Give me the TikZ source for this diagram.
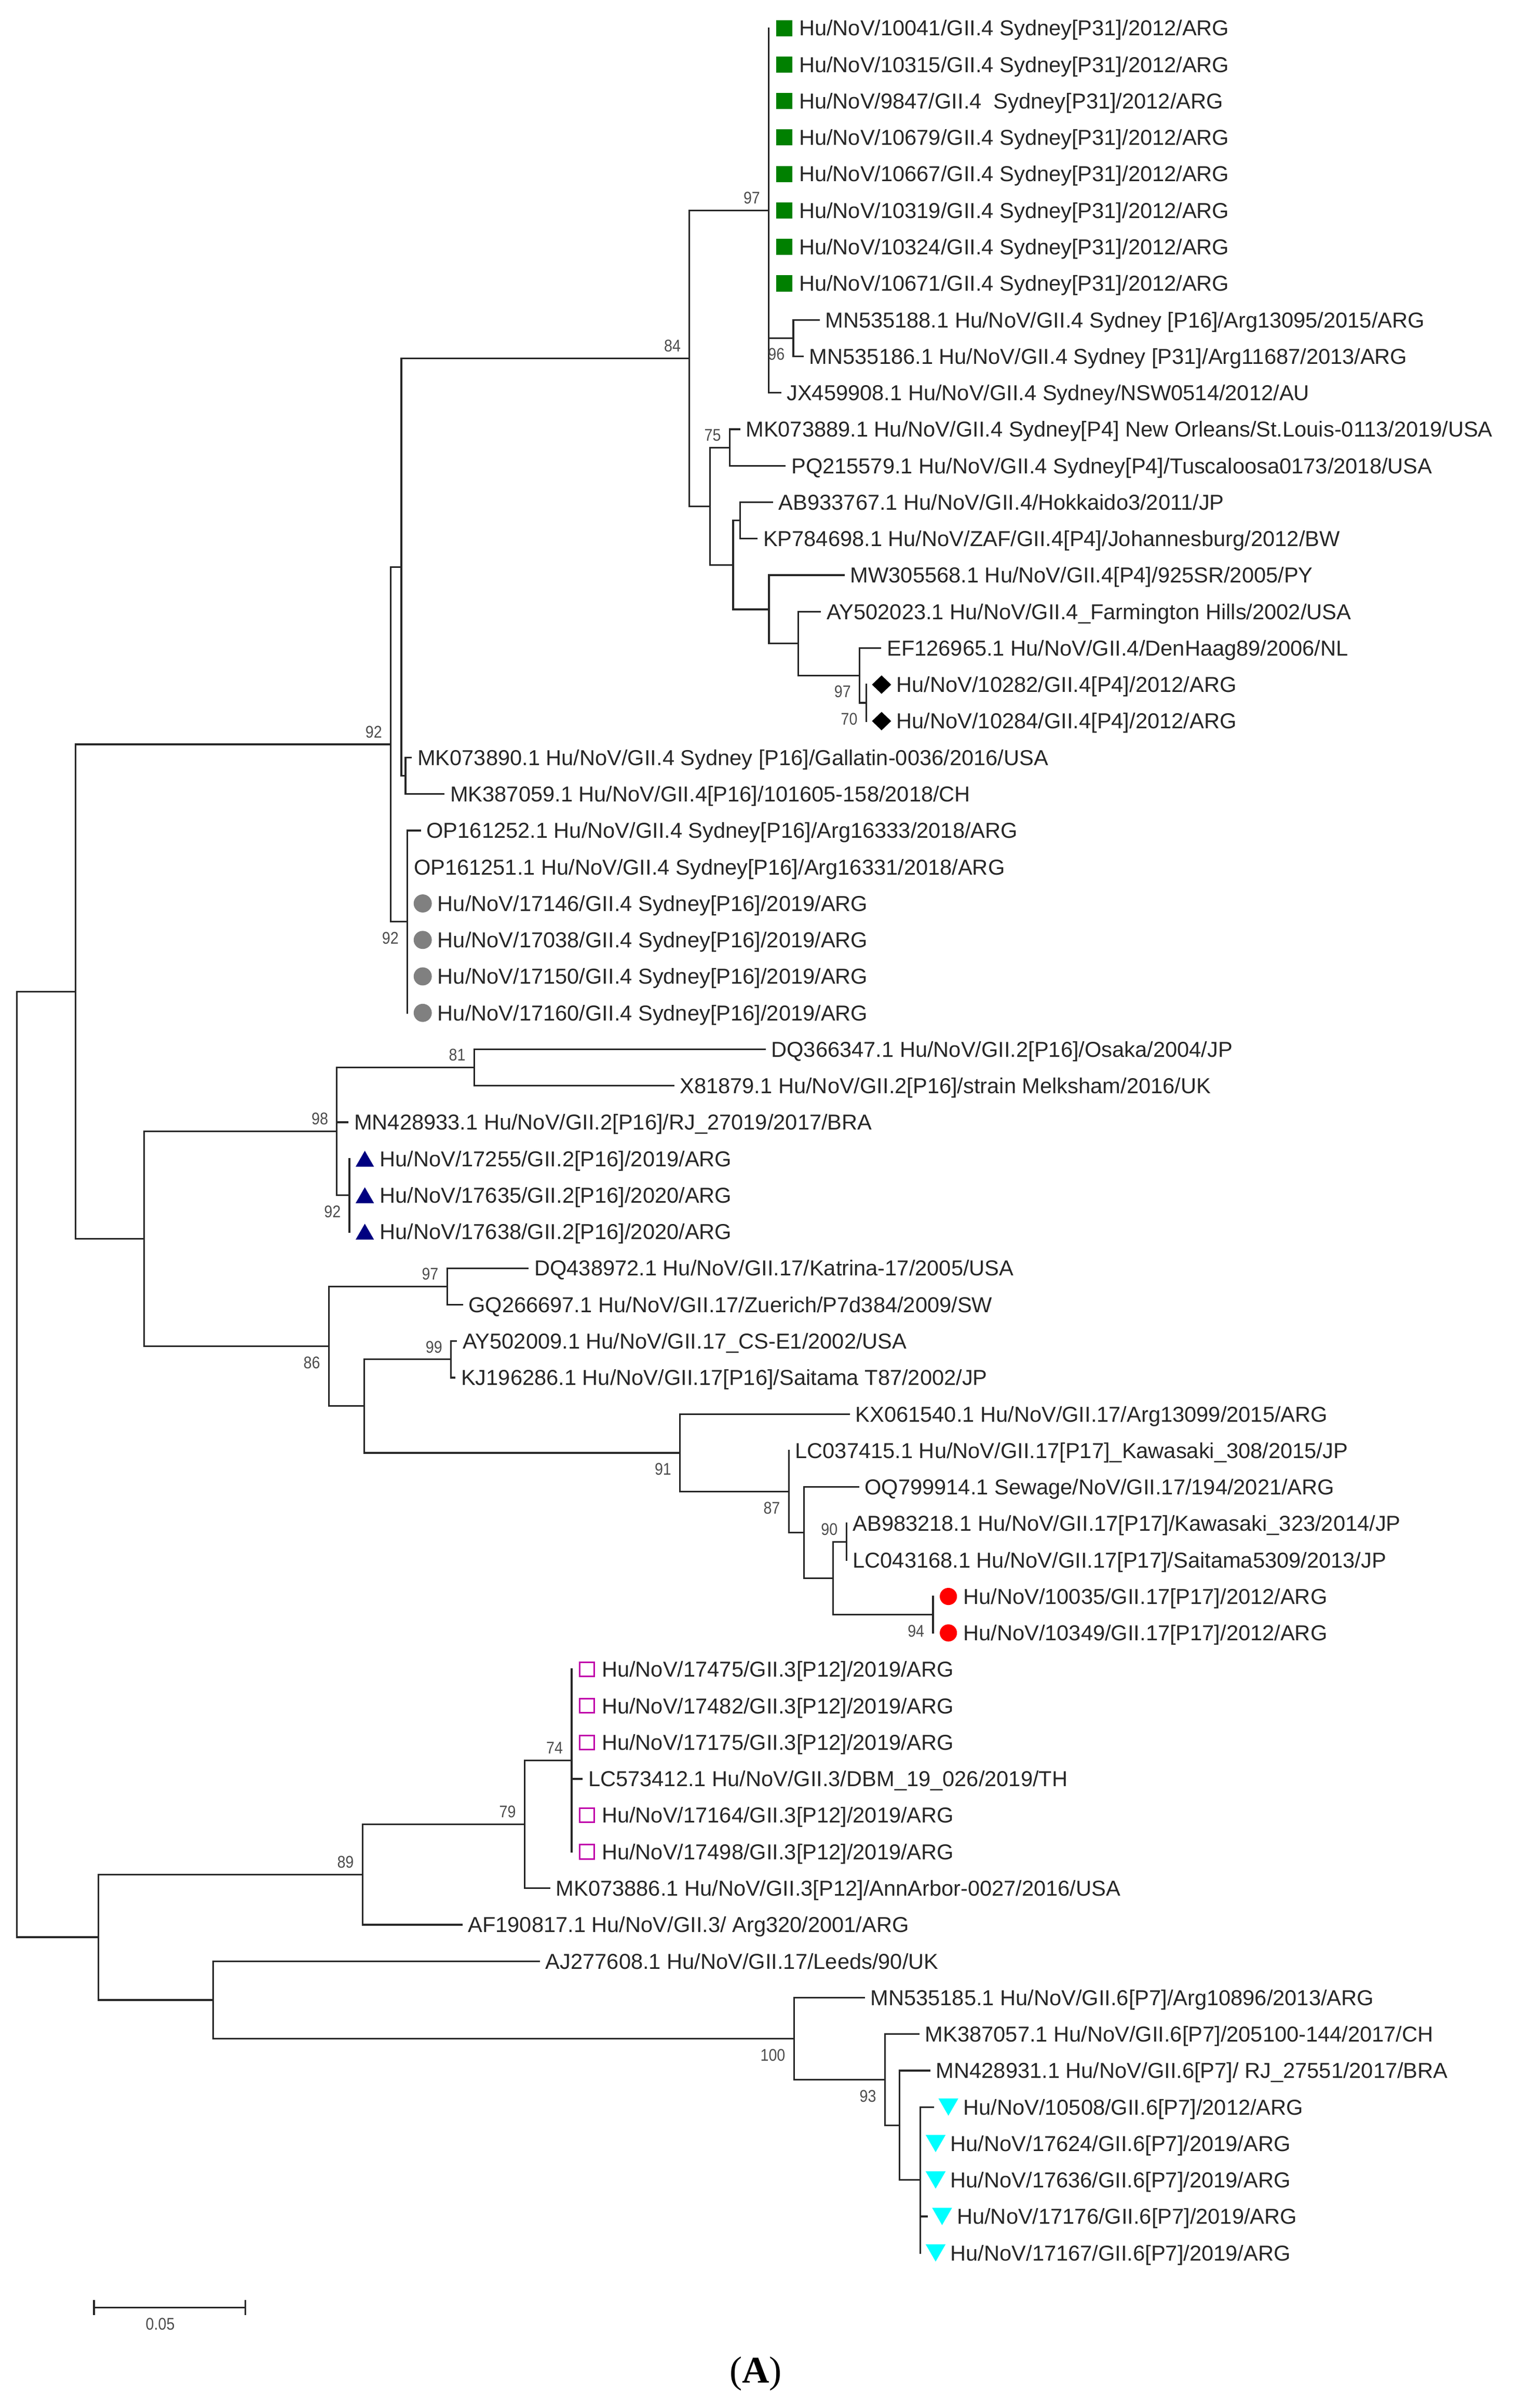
\documentclass[tikz,border=0pt]{standalone}
\usepackage{fontspec}
\setmainfont{Liberation Sans}
\newfontfamily\bootfont[FakeStretch=0.88]{Liberation Sans}
\newfontfamily\panelfont{Liberation Serif}
\usetikzlibrary{shapes.geometric}

\definecolor{cladegreen}{RGB}{0,128,0}
\definecolor{cladegray}{RGB}{128,128,128}
\definecolor{cladenavy}{RGB}{0,0,128}
\definecolor{cladered}{RGB}{255,0,0}
\definecolor{cladepurple}{RGB}{192,0,170}
\definecolor{cladecyan}{RGB}{0,255,255}

\begin{document}
\begin{tikzpicture}[x=1pt, y=-23.75pt,
	branch/.style={line width=1.1pt, line cap=rect, draw=black!85},
	tipfont/.style={anchor=base west, inner sep=0pt, yshift=-5pt, text=black!85, font=\fontsize{14.07}{16}\selectfont},
	tip/.style={tipfont, xshift=4pt},
	mtip/.style={tipfont, xshift=19.5pt},
	mk/.style={inner sep=0pt, outer sep=0pt, xshift=10pt},
	gsq/.style={mk, rectangle, fill=cladegreen, minimum size=10.5pt},
	gdot/.style={mk, circle, fill=cladegray, minimum size=11.8pt},
	ntri/.style={mk, regular polygon, regular polygon sides=3, fill=cladenavy, minimum size=13.8pt, yshift=-1.7pt},
	rdot/.style={mk, circle, fill=cladered, minimum size=11.2pt},
	msq/.style={mk, rectangle, draw=cladepurple, line width=1pt, minimum size=9.2pt},
	bdia/.style={mk, diamond, fill=black, minimum width=12.5pt, minimum height=12pt},
	ctri/.style={mk, regular polygon, regular polygon sides=3, shape border rotate=180, fill=cladecyan, minimum size=15pt, yshift=1.9pt},
	boot/.style={anchor=east, inner sep=0pt, xshift=-5.5pt, text=black!70, font=\bootfont\fontsize{11}{13}\selectfont},
	ba/.style={boot, yshift=8.1pt},
	bb/.style={boot, yshift=-10.6pt}]
	\useasboundingbox (0,0.22947) rectangle (985.3,66.251);

	% internal nodes (x in pt, y in leaf rows)
	\coordinate (n96) at (516.5,9.5);
	\coordinate (n97a) at (500.5,6);
	\coordinate (n75) at (475,12.5);
	\coordinate (nHk) at (481.7,14.5);
	\coordinate (n70) at (563.9,19.5);
	\coordinate (n97b) at (559.6,18.75);
	\coordinate (nFH) at (519.6,17.875);
	\coordinate (nPY) at (500.6,16.9375);
	\coordinate (nP4) at (477.3,15.71875);
	\coordinate (nG4b) at (462.3,14.109375);
	\coordinate (n84) at (448.8,10.0546875);
	\coordinate (nMK16) at (264,21.5);
	\coordinate (nG4a) at (261.3,15.77734);
	\coordinate (n92b) at (265.2,25.5);
	\coordinate (n92a) at (254.4,20.63867);
	\coordinate (n81) at (308.7,29.5);
	\coordinate (n92c) at (227.5,33);
	\coordinate (n98) at (219.3,31.25);
	\coordinate (n97c) at (291.1,35.5);
	\coordinate (n99) at (293.6,37.5);
	\coordinate (n94) at (607.4,44.5);
	\coordinate (n90) at (551,42.5);
	\coordinate (nLC) at (542.4,43.5);
	\coordinate (nOQ) at (523.4,42.25);
	\coordinate (n87) at (513.5,41.125);
	\coordinate (n91) at (442.7,40.0625);
	\coordinate (nKJ) at (237.2,38.78125);
	\coordinate (n86) at (214.1,37.140625);
	\coordinate (nG2) at (93.8,34.19531);
	\coordinate (nTop) at (49.2,27.41699);
	\coordinate (n74) at (372.1,48.5);
	\coordinate (n79) at (341.5,50.25);
	\coordinate (n89) at (236,51.625);
	\coordinate (nTri) at (599.1,60);
	\coordinate (nRJ) at (585.6,58.5);
	\coordinate (n93) at (576.1,57.25);
	\coordinate (n100) at (516.9,56.125);
	\coordinate (nAJ) at (138.7,55.0625);
	\coordinate (nBot) at (64.1,53.34375);
	\coordinate (root) at (11,40.38037);

	% GII.4 Sydney [P31]
	\coordinate (e1) at (500.5,1); \node[gsq] (m1) at (e1) {}; \node[mtip] (t1) at (e1) {Hu/NoV/10041/GII.4 Sydney[P31]/2012/ARG};
	\coordinate (e2) at (500.5,2); \node[gsq] (m2) at (e2) {}; \node[mtip] (t2) at (e2) {Hu/NoV/10315/GII.4 Sydney[P31]/2012/ARG};
	\coordinate (e3) at (500.5,3); \node[gsq] (m3) at (e3) {}; \node[mtip] (t3) at (e3) {Hu/NoV/9847/GII.4\ \ Sydney[P31]/2012/ARG};
	\coordinate (e4) at (500.5,4); \node[gsq] (m4) at (e4) {}; \node[mtip] (t4) at (e4) {Hu/NoV/10679/GII.4 Sydney[P31]/2012/ARG};
	\coordinate (e5) at (500.5,5); \node[gsq] (m5) at (e5) {}; \node[mtip] (t5) at (e5) {Hu/NoV/10667/GII.4 Sydney[P31]/2012/ARG};
	\coordinate (e6) at (500.5,6); \node[gsq] (m6) at (e6) {}; \node[mtip] (t6) at (e6) {Hu/NoV/10319/GII.4 Sydney[P31]/2012/ARG};
	\coordinate (e7) at (500.5,7); \node[gsq] (m7) at (e7) {}; \node[mtip] (t7) at (e7) {Hu/NoV/10324/GII.4 Sydney[P31]/2012/ARG};
	\coordinate (e8) at (500.5,8); \node[gsq] (m8) at (e8) {}; \node[mtip] (t8) at (e8) {Hu/NoV/10671/GII.4 Sydney[P31]/2012/ARG};
	\coordinate (e9) at (533,9); \node[tip] (t9) at (e9) {MN535188.1 Hu/NoV/GII.4 Sydney [P16]/Arg13095/2015/ARG};
	\coordinate (e10) at (522.7,10); \node[tip] (t10) at (e10) {MN535186.1 Hu/NoV/GII.4 Sydney [P31]/Arg11687/2013/ARG};
	\coordinate (e11) at (508,11); \node[tip] (t11) at (e11) {JX459908.1 Hu/NoV/GII.4 Sydney/NSW0514/2012/AU};
	\coordinate (e12) at (481.3,12); \node[tip] (t12) at (e12) {MK073889.1 Hu/NoV/GII.4 Sydney[P4] New Orleans/St.Louis-0113/2019/USA};
	\coordinate (e13) at (511,13); \node[tip] (t13) at (e13) {PQ215579.1 Hu/NoV/GII.4 Sydney[P4]/Tuscaloosa0173/2018/USA};
	\coordinate (e14) at (502.8,14); \node[tip] (t14) at (e14) {AB933767.1 Hu/NoV/GII.4/Hokkaido3/2011/JP};
	\coordinate (e15) at (492.7,15); \node[tip] (t15) at (e15) {KP784698.1 Hu/NoV/ZAF/GII.4[P4]/Johannesburg/2012/BW};
	\coordinate (e16) at (549.4,16); \node[tip] (t16) at (e16) {MW305568.1 Hu/NoV/GII.4[P4]/925SR/2005/PY};
	\coordinate (e17) at (533.9,17); \node[tip] (t17) at (e17) {AY502023.1 Hu/NoV/GII.4\_Farmington Hills/2002/USA};
	\coordinate (e18) at (573.2,18); \node[tip] (t18) at (e18) {EF126965.1 Hu/NoV/GII.4/DenHaag89/2006/NL};
	\coordinate (e19) at (563.9,19); \node[bdia] (m19) at (e19) {}; \node[mtip] (t19) at (e19) {Hu/NoV/10282/GII.4[P4]/2012/ARG};
	\coordinate (e20) at (563.9,20); \node[bdia] (m20) at (e20) {}; \node[mtip] (t20) at (e20) {Hu/NoV/10284/GII.4[P4]/2012/ARG};

	% GII.4 Sydney [P16]
	\coordinate (e21) at (267.6,21); \node[tip] (t21) at (e21) {MK073890.1 Hu/NoV/GII.4 Sydney [P16]/Gallatin-0036/2016/USA};
	\coordinate (e22) at (288.9,22); \node[tip] (t22) at (e22) {MK387059.1 Hu/NoV/GII.4[P16]/101605-158/2018/CH};
	\coordinate (e23) at (273.5,23); \node[tip] (t23) at (e23) {OP161252.1 Hu/NoV/GII.4 Sydney[P16]/Arg16333/2018/ARG};
	\coordinate (e24) at (265.2,24); \node[tip] (t24) at (e24) {OP161251.1 Hu/NoV/GII.4 Sydney[P16]/Arg16331/2018/ARG};
	\coordinate (e25) at (265.2,25); \node[gdot] (m25) at (e25) {}; \node[mtip] (t25) at (e25) {Hu/NoV/17146/GII.4 Sydney[P16]/2019/ARG};
	\coordinate (e26) at (265.2,26); \node[gdot] (m26) at (e26) {}; \node[mtip] (t26) at (e26) {Hu/NoV/17038/GII.4 Sydney[P16]/2019/ARG};
	\coordinate (e27) at (265.2,27); \node[gdot] (m27) at (e27) {}; \node[mtip] (t27) at (e27) {Hu/NoV/17150/GII.4 Sydney[P16]/2019/ARG};
	\coordinate (e28) at (265.2,28); \node[gdot] (m28) at (e28) {}; \node[mtip] (t28) at (e28) {Hu/NoV/17160/GII.4 Sydney[P16]/2019/ARG};

	% GII.2
	\coordinate (e29) at (497.9,29); \node[tip] (t29) at (e29) {DQ366347.1 Hu/NoV/GII.2[P16]/Osaka/2004/JP};
	\coordinate (e30) at (438.4,30); \node[tip] (t30) at (e30) {X81879.1 Hu/NoV/GII.2[P16]/strain Melksham/2016/UK};
	\coordinate (e31) at (226.4,31); \node[tip] (t31) at (e31) {MN428933.1 Hu/NoV/GII.2[P16]/RJ\_27019/2017/BRA};
	\coordinate (e32) at (227.5,32); \node[ntri] (m32) at (e32) {}; \node[mtip] (t32) at (e32) {Hu/NoV/17255/GII.2[P16]/2019/ARG};
	\coordinate (e33) at (227.5,33); \node[ntri] (m33) at (e33) {}; \node[mtip] (t33) at (e33) {Hu/NoV/17635/GII.2[P16]/2020/ARG};
	\coordinate (e34) at (227.5,34); \node[ntri] (m34) at (e34) {}; \node[mtip] (t34) at (e34) {Hu/NoV/17638/GII.2[P16]/2020/ARG};

	% GII.17
	\coordinate (e35) at (343.7,35); \node[tip] (t35) at (e35) {DQ438972.1 Hu/NoV/GII.17/Katrina-17/2005/USA};
	\coordinate (e36) at (300.8,36); \node[tip] (t36) at (e36) {GQ266697.1 Hu/NoV/GII.17/Zuerich/P7d384/2009/SW};
	\coordinate (e37) at (297,37); \node[tip] (t37) at (e37) {AY502009.1 Hu/NoV/GII.17\_CS-E1/2002/USA};
	\coordinate (e38) at (296,38); \node[tip] (t38) at (e38) {KJ196286.1 Hu/NoV/GII.17[P16]/Saitama T87/2002/JP};
	\coordinate (e39) at (552.7,39); \node[tip] (t39) at (e39) {KX061540.1 Hu/NoV/GII.17/Arg13099/2015/ARG};
	\coordinate (e40) at (513.5,40); \node[tip] (t40) at (e40) {LC037415.1 Hu/NoV/GII.17[P17]\_Kawasaki\_308/2015/JP};
	\coordinate (e41) at (558.7,41); \node[tip] (t41) at (e41) {OQ799914.1 Sewage/NoV/GII.17/194/2021/ARG};
	\coordinate (e42) at (551,42); \node[tip] (t42) at (e42) {AB983218.1 Hu/NoV/GII.17[P17]/Kawasaki\_323/2014/JP};
	\coordinate (e43) at (551,43); \node[tip] (t43) at (e43) {LC043168.1 Hu/NoV/GII.17[P17]/Saitama5309/2013/JP};
	\coordinate (e44) at (607.4,44); \node[rdot] (m44) at (e44) {}; \node[mtip] (t44) at (e44) {Hu/NoV/10035/GII.17[P17]/2012/ARG};
	\coordinate (e45) at (607.4,45); \node[rdot] (m45) at (e45) {}; \node[mtip] (t45) at (e45) {Hu/NoV/10349/GII.17[P17]/2012/ARG};

	% GII.3
	\coordinate (e46) at (372.1,46); \node[msq] (m46) at (e46) {}; \node[mtip] (t46) at (e46) {Hu/NoV/17475/GII.3[P12]/2019/ARG};
	\coordinate (e47) at (372.1,47); \node[msq] (m47) at (e47) {}; \node[mtip] (t47) at (e47) {Hu/NoV/17482/GII.3[P12]/2019/ARG};
	\coordinate (e48) at (372.1,48); \node[msq] (m48) at (e48) {}; \node[mtip] (t48) at (e48) {Hu/NoV/17175/GII.3[P12]/2019/ARG};
	\coordinate (e49) at (378.8,49); \node[tip] (t49) at (e49) {LC573412.1 Hu/NoV/GII.3/DBM\_19\_026/2019/TH};
	\coordinate (e50) at (372.1,50); \node[msq] (m50) at (e50) {}; \node[mtip] (t50) at (e50) {Hu/NoV/17164/GII.3[P12]/2019/ARG};
	\coordinate (e51) at (372.1,51); \node[msq] (m51) at (e51) {}; \node[mtip] (t51) at (e51) {Hu/NoV/17498/GII.3[P12]/2019/ARG};
	\coordinate (e52) at (357.7,52); \node[tip] (t52) at (e52) {MK073886.1 Hu/NoV/GII.3[P12]/AnnArbor-0027/2016/USA};
	\coordinate (e53) at (300.5,53); \node[tip] (t53) at (e53) {AF190817.1 Hu/NoV/GII.3/ Arg320/2001/ARG};
	\coordinate (e54) at (351,54); \node[tip] (t54) at (e54) {AJ277608.1 Hu/NoV/GII.17/Leeds/90/UK};

	% GII.6
	\coordinate (e55) at (562.5,55); \node[tip] (t55) at (e55) {MN535185.1 Hu/NoV/GII.6[P7]/Arg10896/2013/ARG};
	\coordinate (e56) at (598.1,56); \node[tip] (t56) at (e56) {MK387057.1 Hu/NoV/GII.6[P7]/205100-144/2017/CH};
	\coordinate (e57) at (605.2,57); \node[tip] (t57) at (e57) {MN428931.1 Hu/NoV/GII.6[P7]/ RJ\_27551/2017/BRA};
	\coordinate (e58) at (607.4,58); \node[ctri] (m58) at (e58) {}; \node[mtip] (t58) at (e58) {Hu/NoV/10508/GII.6[P7]/2012/ARG};
	\coordinate (e59) at (599.1,59); \node[ctri] (m59) at (e59) {}; \node[mtip] (t59) at (e59) {Hu/NoV/17624/GII.6[P7]/2019/ARG};
	\coordinate (e60) at (599.1,60); \node[ctri] (m60) at (e60) {}; \node[mtip] (t60) at (e60) {Hu/NoV/17636/GII.6[P7]/2019/ARG};
	\coordinate (e61) at (603.3,61); \node[ctri] (m61) at (e61) {}; \node[mtip] (t61) at (e61) {Hu/NoV/17176/GII.6[P7]/2019/ARG};
	\coordinate (e62) at (599.1,62); \node[ctri] (m62) at (e62) {}; \node[mtip] (t62) at (e62) {Hu/NoV/17167/GII.6[P7]/2019/ARG};

	% branches
	\draw[branch] (root) |- (nTop) (root) |- (nBot);
	\draw[branch] (nTop) |- (n92a) (nTop) |- (nG2);
	\draw[branch] (n92a) |- (nG4a) (n92a) |- (n92b);
	\draw[branch] (nG4a) |- (n84) (nG4a) |- (nMK16);
	\draw[branch] (n84) |- (n97a) (n84) |- (nG4b);
	\draw[branch] (n97a) |- (e1) (n97a) |- (e2) (n97a) |- (e3) (n97a) |- (e4) (n97a) |- (e5) (n97a) |- (e6) (n97a) |- (e7) (n97a) |- (e8) (n97a) |- (n96) (n97a) |- (e11);
	\draw[branch] (n96) |- (e9) (n96) |- (e10);
	\draw[branch] (nG4b) |- (n75) (nG4b) |- (nP4);
	\draw[branch] (n75) |- (e12) (n75) |- (e13);
	\draw[branch] (nP4) |- (nHk) (nP4) |- (nPY);
	\draw[branch] (nHk) |- (e14) (nHk) |- (e15);
	\draw[branch] (nPY) |- (e16) (nPY) |- (nFH);
	\draw[branch] (nFH) |- (e17) (nFH) |- (n97b);
	\draw[branch] (n97b) |- (e18) (n97b) |- (n70);
	\draw[branch] (n70) |- (e19) (n70) |- (e20);
	\draw[branch] (nMK16) |- (e21) (nMK16) |- (e22);
	\draw[branch] (n92b) |- (e23) (n92b) |- (e24) (n92b) |- (e25) (n92b) |- (e26) (n92b) |- (e27) (n92b) |- (e28);
	\draw[branch] (nG2) |- (n98) (nG2) |- (n86);
	\draw[branch] (n98) |- (n81) (n98) |- (e31) (n98) |- (n92c);
	\draw[branch] (n81) |- (e29) (n81) |- (e30);
	\draw[branch] (n92c) |- (e32) (n92c) |- (e33) (n92c) |- (e34);
	\draw[branch] (n86) |- (n97c) (n86) |- (nKJ);
	\draw[branch] (n97c) |- (e35) (n97c) |- (e36);
	\draw[branch] (nKJ) |- (n99) (nKJ) |- (n91);
	\draw[branch] (n99) |- (e37) (n99) |- (e38);
	\draw[branch] (n91) |- (e39) (n91) |- (n87);
	\draw[branch] (n87) |- (e40) (n87) |- (nOQ);
	\draw[branch] (nOQ) |- (e41) (nOQ) |- (nLC);
	\draw[branch] (nLC) |- (n90) (nLC) |- (n94);
	\draw[branch] (n90) |- (e42) (n90) |- (e43);
	\draw[branch] (n94) |- (e44) (n94) |- (e45);
	\draw[branch] (nBot) |- (n89) (nBot) |- (nAJ);
	\draw[branch] (n89) |- (n79) (n89) |- (e53);
	\draw[branch] (n79) |- (n74) (n79) |- (e52);
	\draw[branch] (n74) |- (e46) (n74) |- (e47) (n74) |- (e48) (n74) |- (e49) (n74) |- (e50) (n74) |- (e51);
	\draw[branch] (nAJ) |- (e54) (nAJ) |- (n100);
	\draw[branch] (n100) |- (e55) (n100) |- (n93);
	\draw[branch] (n93) |- (e56) (n93) |- (nRJ);
	\draw[branch] (nRJ) |- (e57) (nRJ) |- (nTri);
	\draw[branch] (nTri) |- (e58) (nTri) |- (e59) (nTri) |- (e60) (nTri) |- (e61) (nTri) |- (e62);

	% bootstrap values
	\node[ba] (b97a) at (n97a) {97};
	\node[bb] (b96) at (n96) {96};
	\node[ba] (b84) at (n84) {84};
	\node[ba] (b75) at (n75) {75};
	\node[bb] (b97b) at (n97b) {97};
	\node[bb] (b70) at (n70) {70};
	\node[ba] (b92a) at (n92a) {92};
	\node[bb] (b92b) at (n92b) {92};
	\node[ba] (b81) at (n81) {81};
	\node[ba] (b98) at (n98) {98};
	\node[bb] (b92c) at (n92c) {92};
	\node[ba] (b97c) at (n97c) {97};
	\node[bb] (b86) at (n86) {86};
	\node[ba] (b99) at (n99) {99};
	\node[bb] (b91) at (n91) {91};
	\node[bb] (b87) at (n87) {87};
	\node[ba] (b90) at (n90) {90};
	\node[bb] (b94) at (n94) {94};
	\node[ba] (b74) at (n74) {74};
	\node[ba] (b79) at (n79) {79};
	\node[ba] (b89) at (n89) {89};
	\node[bb] (b100) at (n100) {100};
	\node[bb] (b93) at (n93) {93};

	% scale bar
	\coordinate (sbl) at (61.2,63.493);
	\coordinate (sbr) at (159.8,63.493);
	\draw[branch] (sbl) -- (sbr);
	\draw[branch] (sbl) ++(0pt,4.3pt) -- ++(0pt,-8.6pt);
	\draw[branch] (sbr) ++(0pt,4.3pt) -- ++(0pt,-8.6pt);
	\node[boot, anchor=center, xshift=0pt] (sblabel) at (109.8,63.943) {0.05};

	\node[inner sep=0pt, font=\panelfont\fontsize{24.5}{28}\selectfont] (panel) at (492,65.316) {(\textbf{A})};
\end{tikzpicture}
\end{document}
